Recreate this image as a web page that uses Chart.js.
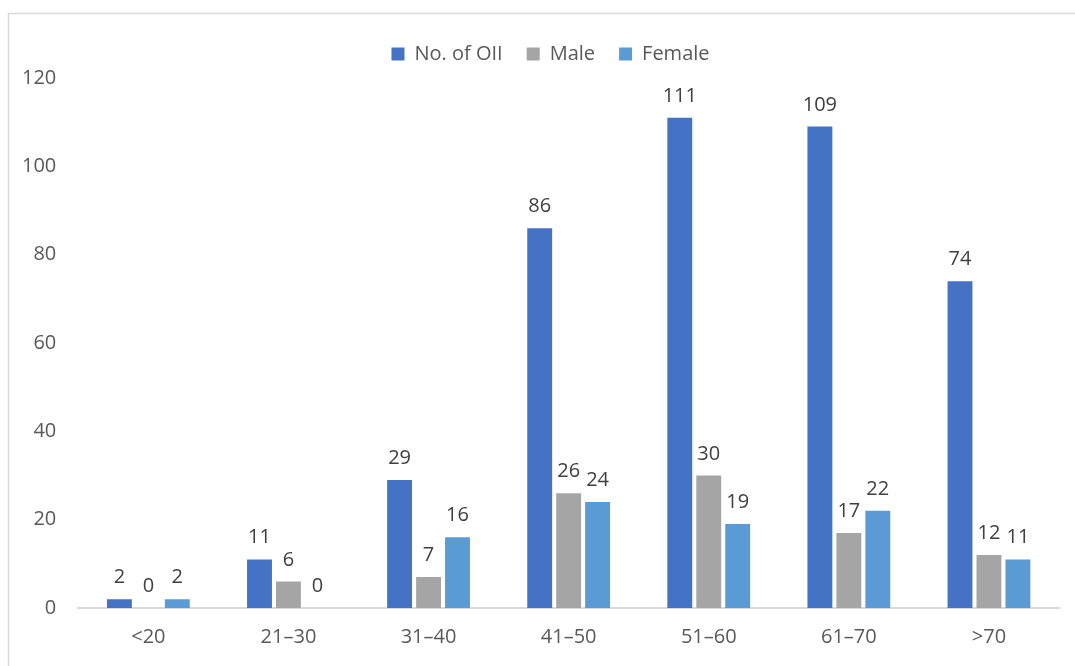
<!DOCTYPE html>
<html>
<head>
<meta charset="utf-8">
<script src="https://cdn.jsdelivr.net/npm/chart.js@4.4.1/dist/chart.umd.min.js"></script>
<style>
  html, body { margin: 0; padding: 0; background: #fff; }
  #wrap { position: relative; width: 1075px; height: 666px; }
</style>
</head>
<body>
<div id="wrap"><canvas id="chart" width="1075" height="666"></canvas></div>
<script>
  var ageGroups = ['<20', '21–30', '31–40', '41–50', '51–60', '61–70', '>70'];
  var oiiCounts = [2, 11, 29, 86, 111, 109, 74];
  var maleCounts = [0, 6, 7, 26, 30, 17, 12];
  var femaleCounts = [2, 0, 16, 24, 19, 22, 11];

  var fontFamily = '"Open Sans", "Liberation Sans", sans-serif';

  // frame around the chart (cut off on right and bottom like the source)
  var framePlugin = {
    id: 'frame',
    beforeDraw: function(chart) {
      var ctx = chart.ctx;
      ctx.save();
      ctx.strokeStyle = '#d9d9d9';
      ctx.lineWidth = 1.5;
      ctx.strokeRect(8.5, 13.5, 1200, 800);
      ctx.restore();
    }
  };

  // nudge the legend a bit right / up, as in the source
  var legendShift = {
    id: 'legendShift',
    afterLayout: function(chart) {
      var lg = chart.legend;
      if (!lg) return;
      lg.left += 21; lg.right += 21;
      lg.top -= 4; lg.bottom -= 4;
    }
  };

  // value labels above each bar
  var valueLabels = {
    id: 'valueLabels',
    afterDatasetsDraw: function(chart) {
      var ctx = chart.ctx;
      ctx.save();
      ctx.fillStyle = '#404040';
      ctx.font = '20px ' + fontFamily;
      ctx.textAlign = 'center';
      ctx.textBaseline = 'alphabetic';
      chart.data.datasets.forEach(function(ds, i) {
        var meta = chart.getDatasetMeta(i);
        meta.data.forEach(function(bar, j) {
          ctx.fillText(ds.data[j], bar.x, bar.y - 16);
        });
      });
      ctx.restore();
    }
  };

  new Chart(document.getElementById('chart'), {
    type: 'bar',
    data: {
      labels: ageGroups,
      datasets: [
        { label: 'No. of OII', data: oiiCounts, backgroundColor: '#4472C4' },
        { label: 'Male', data: maleCounts, backgroundColor: '#A5A5A5' },
        { label: 'Female', data: femaleCounts, backgroundColor: '#5B9BD5' }
      ]
    },
    options: {
      responsive: false,
      animation: false,
      layout: { padding: { left: 0, right: 16, top: 24, bottom: 0 } },
      datasets: {
        bar: { categoryPercentage: 0.62, barPercentage: 0.86 }
      },
      plugins: {
        legend: {
          position: 'top',
          labels: {
            color: '#595959',
            font: { size: 20, family: fontFamily },
            boxWidth: 13,
            boxHeight: 13,
            padding: 24
          }
        },
        tooltip: { enabled: false }
      },
      scales: {
        x: {
          grid: { display: false, drawTicks: false },
          border: { color: '#d9d9d9', width: 2 },
          ticks: { color: '#595959', font: { size: 20, family: fontFamily }, padding: 17 }
        },
        y: {
          min: 0,
          max: 120,
          grid: { display: false, drawTicks: false },
          border: { display: false },
          ticks: { stepSize: 20, color: '#595959', font: { size: 20, family: fontFamily }, padding: 22 }
        }
      }
    },
    plugins: [framePlugin, legendShift, valueLabels]
  });
</script>
</body>
</html>
